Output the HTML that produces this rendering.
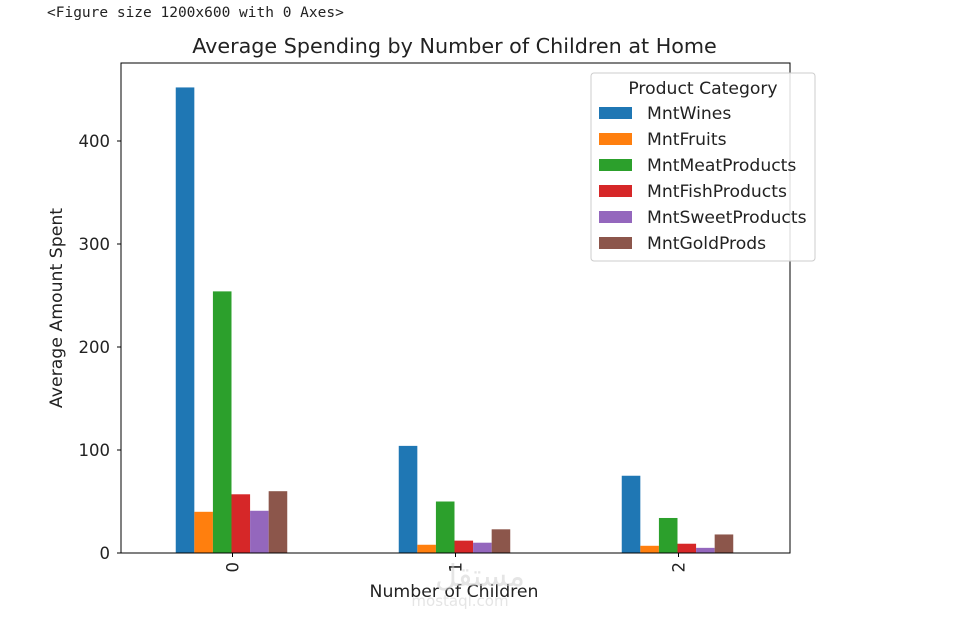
<!DOCTYPE html>
<html><head><meta charset="utf-8">
<style>
body{margin:0;background:#fff;width:962px;height:622px;overflow:hidden;font-family:"DejaVu Sans",sans-serif;}
#fig{position:absolute;left:47px;top:5px;font-family:"DejaVu Sans Mono","Liberation Mono",monospace;font-size:14.5px;color:#222;}
svg{position:absolute;left:0;top:0;font-family:"DejaVu Sans",sans-serif}
</style></head><body>
<div id="fig">&lt;Figure size 1200x600 with 0 Axes&gt;</div>
<svg id="chart" width="962" height="622"></svg>
<script>
const categories=["0","1","2"];
const seriesNames=["MntWines","MntFruits","MntMeatProducts","MntFishProducts","MntSweetProducts","MntGoldProds"];
const mntWines=[452,104,75];
const mntFruits=[40,8,7];
const mntMeat=[254,50,34];
const mntFish=[57,12,9];
const mntSweet=[41,10,5];
const mntGold=[60,23,18];
const yTicks=[0,100,200,300,400];
const series=[mntWines,mntFruits,mntMeat,mntFish,mntSweet,mntGold];
const colors=["#1f77b4","#ff7f0e","#2ca02c","#d62728","#9467bd","#8c564b"];
const L=121,R=790,T=63,B=553;
const NS="http://www.w3.org/2000/svg";
const svg=document.getElementById('chart');
const yMax=(B-T)/1.03;
function y(v){return B-v*(B-T)/yMax;}
function x(i){return L+(i+0.5)*(R-L)/categories.length;}
const unit=(R-L)/categories.length, bw=unit*0.5/series.length;
function el(t,a,txt){const e=document.createElementNS(NS,t);for(const k in a)e.setAttribute(k,a[k]);if(txt!==undefined)e.textContent=txt;svg.appendChild(e);return e;}
series.forEach((s,si)=>{s.forEach((v,ci)=>{
 const x0=x(ci)-unit*0.25+si*bw-1;
 const r=el('rect',{x:x0,y:y(v),width:bw,height:B-y(v),fill:colors[si]});
 
 
});});
const ax=el('rect',{x:L,y:T,width:R-L,height:B-T,fill:'none',stroke:'#000','stroke-width':1});


yTicks.forEach(t=>{
 el('line',{x1:L-4,x2:L,y1:y(t),y2:y(t),stroke:'#000'});
 const tx=el('text',{x:L-11,y:y(t)+6,'text-anchor':'end','font-size':16.5,fill:'#222'},t);
 
 
});
categories.forEach((c,i)=>{
 el('line',{x1:x(i),x2:x(i),y1:B,y2:B+4,stroke:'#000'});
 const tx=el('text',{x:0,y:0,transform:`translate(${x(i)+6},${B+9}) rotate(-90)`,'text-anchor':'end','font-size':16.5,fill:'#222'},c);
 
 
});
let t=el('text',{x:(L+R)/2-1,y:53,'text-anchor':'middle','font-size':20.7,fill:'#222'},'Average Spending by Number of Children at Home');


t=el('text',{x:454,y:597,'text-anchor':'middle','font-size':17.3,fill:'#222'},'Number of Children');


t=el('text',{x:0,y:0,transform:'translate(62,308) rotate(-90)','text-anchor':'middle','font-size':17.3,fill:'#222'},'Average Amount Spent');


t=el('text',{x:480,y:586,'text-anchor':'middle','font-size':30,fill:'#ccc','fill-opacity':0.5},'مستقل');


t=el('text',{x:460,y:606,'text-anchor':'middle','font-size':15,fill:'#ccc','fill-opacity':0.5},'mostaql.com');


const lg=el('rect',{x:591,y:73,width:224,height:188,rx:3,fill:'#fff','fill-opacity':0.85,stroke:'#ccc'});


t=el('text',{x:703,y:94,'text-anchor':'middle','font-size':17.2,fill:'#222'},'Product Category');


seriesNames.forEach((n,i)=>{
 const yy=113+i*26;
 const r=el('rect',{x:599,y:yy-6,width:33,height:12,fill:colors[i]});
 
 
 const tx=el('text',{x:647,y:yy+6,'font-size':17.2,fill:'#222'},n);
 
 
});
</script>
</body></html>
